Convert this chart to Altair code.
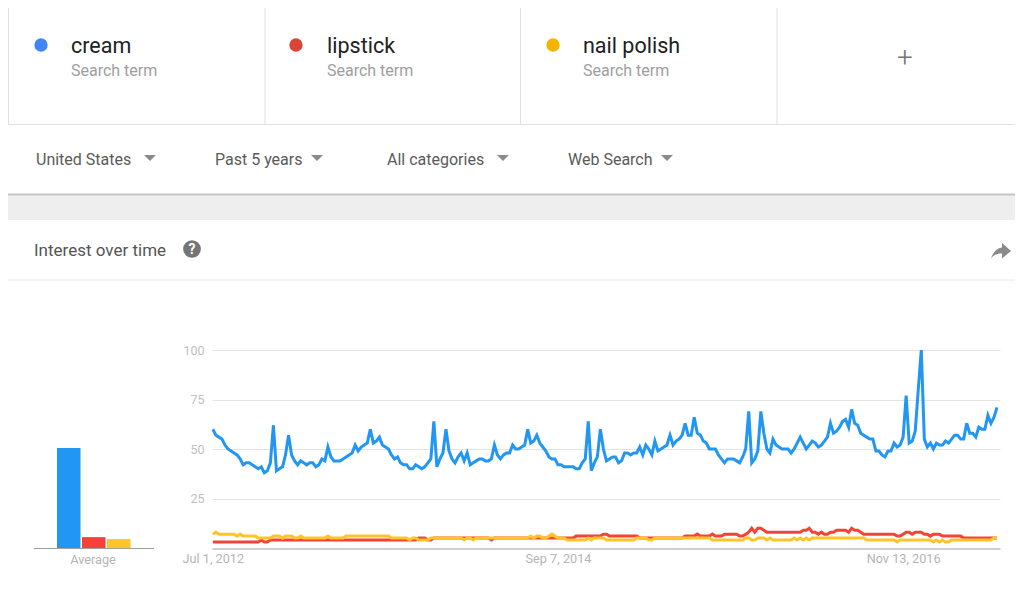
import altair as alt
import pandas as pd

TERMS = ["cream", "lipstick", "nail polish"]
LINE_COLORS = ["#2196f3", "#f44336", "#ffc42a"]
DOT_COLORS = ["#4285f4", "#db4437", "#f4b400"]
AVERAGES = [50.5, 5.5, 4.5]
FILTERS = ["United States", "Past 5 years", "All categories", "Web Search"]

cream = [
    60,57,56,55,52,50,49,48,47,45,
    42,43,43,42,41,40,41,38,39,43,
    62,39,40,41,47,57,47,44,42,44,
    43,42,43,43,41,42,45,44,51,46,
    44,44,44,45,46,47,48,52,49,51,
    52,53,60,53,54,56,52,51,50,47,
    45,46,43,42,42,40,40,42,41,40,
    41,43,45,64,41,45,48,60,49,45,
    43,46,48,44,48,42,43,44,45,45,
    44,44,45,52,47,45,47,48,48,52,
    50,50,51,52,60,53,54,57,53,51,
    49,46,45,45,42,42,41,41,41,41,
    40,40,43,45,64,39,43,46,60,50,
    44,45,46,46,43,44,48,48,47,48,
    48,51,47,52,50,47,54,49,50,51,
    52,57,52,54,55,57,63,57,57,66,
    58,57,54,53,50,50,50,47,45,43,
    45,45,45,44,43,46,50,69,43,45,
    49,69,58,50,48,55,52,51,50,50,
    50,48,50,53,56,53,50,52,54,53,
    51,52,54,56,63,58,59,61,64,65,
    61,70,63,62,58,57,56,55,55,49,
    49,47,46,49,49,53,51,52,56,77,
    53,54,59,80,100,55,51,53,50,53,
    52,52,54,53,55,57,57,55,55,63,
    58,58,56,61,60,60,67,63,66,71,
]
lipstick = [
    3,3,3,3,3,3,3,3,3,3,
    3,3,3,3,3,3,4,3,3,4,
    4,4,4,4,4,4,4,4,4,4,
    4,4,4,4,4,4,4,4,4,4,
    4,4,4,4,4,4,4,4,4,4,
    4,4,4,4,4,4,4,4,4,4,
    4,4,4,4,4,4,4,4,5,5,
    5,4,4,5,5,5,5,5,5,5,
    5,5,5,5,5,5,5,5,5,5,
    5,5,4,5,5,5,5,5,5,5,
    5,5,5,5,5,5,5,5,5,5,
    5,5,5,5,5,5,5,5,5,5,
    6,6,6,6,6,6,6,6,6,7,
    7,6,6,6,6,6,6,6,6,6,
    6,5,5,5,5,5,5,5,5,5,
    5,5,5,5,5,5,6,6,6,6,
    7,6,6,6,6,7,6,6,6,7,
    7,7,7,7,6,6,7,8,10,8,
    10,10,9,8,8,8,8,8,8,8,
    8,8,8,8,8,9,9,10,8,8,
    7,8,7,7,8,8,9,9,9,9,
    8,10,9,9,8,7,7,7,7,7,
    7,7,7,7,7,7,6,6,7,8,
    8,7,8,8,8,7,7,6,7,7,
    7,6,6,6,6,6,6,6,5,5,
    5,5,5,5,5,5,5,5,5,5,
]
nail_polish = [
    7,8,7,7,7,7,7,7,6,7,
    6,6,6,6,6,5,5,5,5,5,
    6,6,6,5,6,6,6,5,5,6,
    5,5,5,5,5,5,5,5,6,5,
    5,5,5,5,6,6,6,6,6,6,
    6,6,6,6,6,6,6,6,6,5,
    5,5,5,5,5,4,5,5,4,4,
    4,4,5,5,5,5,5,5,5,5,
    5,5,5,4,5,5,4,5,5,5,
    5,5,5,5,5,5,5,5,5,5,
    5,5,5,5,5,6,5,6,6,5,
    5,6,7,6,5,5,5,4,4,4,
    4,4,4,4,5,4,5,5,5,5,
    4,4,4,4,4,4,4,4,4,4,
    5,5,5,5,4,4,5,5,5,5,
    5,5,5,5,5,5,5,5,5,5,
    5,5,5,5,5,4,4,4,4,4,
    4,4,4,4,4,4,5,5,4,4,
    5,5,5,4,5,4,4,4,4,4,
    4,4,5,4,5,4,5,4,5,5,
    5,5,5,5,5,5,5,5,5,5,
    5,5,5,5,5,5,4,4,4,4,
    4,4,4,4,4,4,3,4,4,4,
    4,4,4,4,4,4,4,4,3,4,
    3,4,3,3,4,4,4,4,4,4,
    4,4,4,4,4,4,4,4,5,5,
]

dates = pd.date_range("2012-07-01", periods=len(cream), freq="7D")
series = pd.DataFrame({
    "date": list(dates) * 3,
    "value": cream + lipstick + nail_polish,
    "term": [t for t in TERMS for _ in dates],
    "order": [i for i in range(3) for _ in dates],
})
avg = pd.DataFrame({"term": TERMS, "value": AVERAGES})

W, H = 1007, 573
OX, OY = 8, 8  # page margin, so picture coordinates can be used below
RIGHT = OX + W
Y_SCALE = alt.Scale(domain=[0, 100], range=[548 - OY, 350 - OY], nice=False)
COLOR = alt.Color("term:N", scale=alt.Scale(domain=TERMS, range=LINE_COLORS), legend=None)
FONT = "Roboto"
Y_AXIS = alt.Axis(
    title=None, domain=False, ticks=False, offset=-(212 - OX), values=[25, 50, 75, 100],
    grid=True, gridColor="#e3e3e3", gridWidth=1, labelColor="#c0c0c0", labelFont=FONT,
    labelFontSize=12.5, labelPadding=8,
)


def one():
    return alt.Data(values=[{"a": 1}])


def text(s, x, y, size, color, align="left", weight=400):
    return alt.Chart(alt.Data(values=[{"t": s}])).mark_text(
        font=FONT, fontSize=size, color=color, align=align, baseline="middle", fontWeight=weight
    ).encode(text="t:N", x=alt.value(x - OX), y=alt.value(y - OY))


def rule(x1, y1, x2, y2, color, width=1):
    return alt.Chart(one()).mark_rule(color=color, strokeWidth=width).encode(
        x=alt.value(x1 - OX), x2=alt.value(x2 - OX), y=alt.value(y1 - OY), y2=alt.value(y2 - OY)
    )


def symbol(shape, x, y, size, color):
    return alt.Chart(one()).mark_point(shape=shape, filled=True, opacity=1, color=color, size=size, strokeWidth=0).encode(
        x=alt.value(x - OX), y=alt.value(y - OY)
    )


band = alt.Chart(one()).mark_rect(color="#eeeeee").encode(
    x=alt.value(0), x2=alt.value(W), y=alt.value(195 - OY), y2=alt.value(220 - OY)
)

chrome = [band]
for x in [8.5, 265, 520.5, 777]:
    chrome.append(rule(x, 8, x, 124, "#e0e0e0"))
chrome += [
    rule(8, 124.5, RIGHT, 124.5, "#e0e0e0"),
    rule(8, 194.5, RIGHT, 194.5, "#c4c4c4", 2),
    rule(8, 280, RIGHT, 280, "#e8e8e8"),
]
for term, color, dx, tx in zip(TERMS, DOT_COLORS, [41, 296, 553], [71, 327, 583]):
    chrome.append(symbol("circle", dx, 45, 177, color))
    chrome.append(text(term, tx, 46.5, 21.5, "#212121"))
    chrome.append(text("Search term", tx, 71, 16, "#9e9e9e"))
TRIANGLE = "M-1,-0.5L1,-0.5L0,0.5Z"
for label, tx, tri in zip(FILTERS, [36, 215, 387, 568], [150, 317, 503, 667]):
    chrome.append(text(label, tx, 160, 16, "#5a5a5a"))
    chrome.append(symbol(TRIANGLE, tri, 158, 144, "#8a8a8a"))
chrome += [
    text("+", 905, 59, 28, "#757575", "center", 300),
    text("Interest over time", 34, 251, 17, "#555555"),
    symbol("circle", 192, 249, 314, "#757575"),
    text("?", 192, 249.5, 14, "#ffffff", "center", 700),
    symbol("M-1,0.75C-0.75,0 -0.25,-0.35 0.1,-0.35L0.1,-0.8L1,0L0.1,0.75L0.1,0.25C-0.35,0.25 -0.7,0.35 -1,0.75Z",
           1001, 251, 400, "#8a8a8a"),
    text("Average", 93, 560, 12.7, "#b5b5b5", "center"),
    rule(34, 548.5, 154, 548.5, "#9e9e9e"),
]

bars = alt.Chart(avg).mark_bar().encode(
    x=alt.X("term:N", sort=TERMS, axis=None,
            scale=alt.Scale(domain=TERMS, range=[57 - OX, 130.5 - OX], paddingInner=0.06, paddingOuter=0)),
    y=alt.Y("value:Q", scale=Y_SCALE, axis=Y_AXIS),
    color=COLOR,
)

lines = alt.Chart(series).mark_line(strokeWidth=3, strokeJoin="miter", clip=False).encode(
    x=alt.X(
        "date:T",
        scale=alt.Scale(domain=[alt.DateTime(year=2012, month=6, date=29), alt.DateTime(year=2017, month=6, date=25)],
                        range=[212 - OX, 1000 - OX], nice=False),
        axis=alt.Axis(
            title=None, grid=False, ticks=False, offset=548.5 - OY - H, domainColor="#9e9e9e", domainWidth=1,
            values=[alt.DateTime(year=2012, month=7, date=1), alt.DateTime(year=2014, month=9, date=7),
                    alt.DateTime(year=2016, month=11, date=13)],
            format="%b %-d, %Y", labelColor="#b5b5b5", labelFont=FONT, labelFontSize=12.7, labelPadding=4,
            labelOverlap=False, labelFlush=False, labelAlign="center",
        ),
    ),
    y=alt.Y("value:Q", scale=Y_SCALE, axis=Y_AXIS),
    color=COLOR,
    detail="term:N",
    order="order:Q",
)

chart = alt.layer(*chrome, lines, bars).resolve_scale(x="independent").properties(
    width=W, height=H, padding=0, autosize=alt.AutoSizeParams(type="none"),
    background="#ffffff",
).configure_view(stroke=None)

chart.save("out.html", embed_options={"renderer": "svg", "actions": False})
